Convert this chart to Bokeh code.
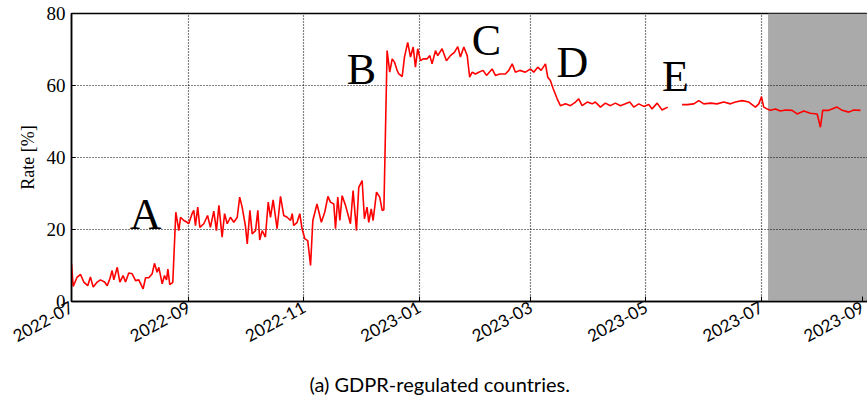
import numpy as np
import pandas as pd
from bokeh.plotting import figure
from bokeh.models import (ColumnDataSource, Range1d, FixedTicker, BoxAnnotation, Title,
                          CustomJSTickFormatter)
from bokeh.embed import file_html
from bokeh.resources import INLINE
from bokeh.core.properties import value

# ---------------- data ----------------
start_date = "2022-07-01"
end_date = "2023-08-26 05:00"
shade_start = "2023-07-04 14:00"

month_ticks = ["2022-07-01", "2022-09-01", "2022-11-01", "2023-01-01",
               "2023-03-01", "2023-05-01", "2023-07-01"]
cut_tick_label = "2023-09"         # last tick label, cut by the right edge in the reference
cut_tick_pos = "2023-08-23 12:00"  # kept just inside the page so the label stays readable

day_offsets = [
    0, 0.9, 3, 4.8, 6.5, 8.6, 10, 11.5, 13.6, 15.3, 17.5, 18.9, 20.3, 21.5, 22.4, 24.2, 25.6,
    27.3, 28.6, 30.3, 32.1, 33.9, 35.6, 37.9, 39.2, 40.9, 42.7, 43.9, 45.3, 46.2, 48, 49.2,
    50.3, 51, 52, 53.6, 55.2,
    56.8, 57.7, 59.4, 61.2, 62, 63.8, 64.7, 65.6, 66.8, 67.9, 70, 72, 73.5, 75.3, 76.7, 78,
    79.7, 81, 82.4, 84.1, 85.9, 87.7, 89, 90.3, 92, 93, 94.4, 95.6, 97.4, 98.6, 99.6, 100.9,
    102.6, 104.1, 105.3, 106.7, 108.8, 110.6, 112.3, 114.1, 115.9, 116.8, 117.6, 119.4, 120.8,
    122, 123.5, 125, 126.5, 127.7, 129.9, 132.2, 134, 135.7, 137, 138.8, 139.7, 140.9, 142,
    143.2, 145, 146.7, 147.6, 149, 150.8, 152, 153.8, 155, 156.4, 157.3, 158.6, 159.6, 161.4,
    163.1, 164.4, 165.3,
    167, 168.4, 169.7, 170.9, 172.3, 173.2, 175, 176.2, 177.9, 179.4, 180.8, 182, 183.2, 184.7,
    186.1, 188.2, 189.6, 190.8, 192.6, 193.8, 196.1, 198.4, 200.5, 202.6, 204.4, 205.8, 207.6,
    209.4, 210.7, 212, 213.8, 215.5, 217.8, 219.6, 222.6, 224.3, 226.6, 229.6, 231.4, 233.2,
    234.9, 237.2, 240.2, 242.9, 244.6, 246.7, 248.5, 250.8, 252, 253.4, 254.9, 257, 258.7,
    261.4, 264, 266.7, 268.4, 270.2, 272.9, 275.5, 277.2, 279.9, 282.5, 285.2, 287.8, 290.5,
    293.1, 295.4, 297.5, 300.2, 302.8, 305.5, 307.2, 309.9, 312.5, 315.5,
    319,
    323.1, 325.8, 329.3, 331.9, 334.6, 338.1, 341.6, 345.1, 348.7, 351.3, 354.9, 358.4, 361.9,
    363.7, 365.1, 366.3, 368.1, 369.8, 372.5, 375.1, 377.8, 381.3, 384, 387.5, 391, 394.6,
    396.3, 397.5, 400.7, 405.1, 407.8, 411.3, 413.9, 417.5,
]
rates = [
    10.5, 4.2, 6.8, 7.5, 5.4, 4.4, 6.8, 4.0, 5.4, 6.0, 5.4, 4.4, 6.3, 8.6, 6.0, 9.5, 5.4,
    7.2, 5.4, 7.9, 7.7, 5.8, 6.0, 3.5, 6.6, 6.6, 7.7, 10.6, 8.1, 9.5, 4.9, 7.2,
    6.0, 9.0, 4.7, 5.3, 24.8,
    19.7, 23.4, 22.5, 22.0, 21.6, 24.4, 25.3, 21.1, 26.2, 20.6, 21.6, 23.9, 20.6, 25.1, 19.7, 26.7,
    17.9, 24.4, 21.6, 23.4, 22.0, 23.4, 29.0, 26.2, 21.1, 16.0, 25.3, 18.8, 19.7, 25.3, 17.1, 19.7,
    17.9, 27.6, 23.4, 28.2, 20.2, 29.2, 23.9, 23.4, 22.5, 24.4, 21.1, 22.0, 24.4,
    20.2, 17.4, 16.9, 10.0, 22.5, 27.1, 22.0, 24.8, 29.2, 27.6, 27.1, 20.2, 29.0, 22.5,
    29.4, 26.7, 23.4, 21.6, 30.8, 19.7, 31.7, 33.6, 23.0, 26.2, 22.0, 25.7, 22.5, 30.4,
    29.0, 25.3, 25.5,
    69.7, 63.7, 67.4, 66.5, 64.2, 63.2, 62.5, 67.9, 72.0, 67.9, 70.7, 65.1, 70.2, 66.9,
    67.4, 67.4, 68.3, 66.0, 69.7, 68.3, 70.2, 66.9, 68.3, 69.2, 70.8, 67.9, 70.7,
    68.3, 62.3, 63.7, 63.2, 63.7, 64.2, 62.8, 64.6, 62.8, 63.2, 63.2, 64.2, 66.0,
    63.7, 64.2, 63.7, 64.6, 63.7, 65.1, 64.2, 66.0, 62.3, 61.4, 59.1, 56.3, 54.4,
    54.9, 54.4, 55.4, 56.3, 54.4, 55.4, 54.9, 55.4, 54.0, 55.1, 54.4, 55.1, 54.4,
    54.9, 55.4, 54.0, 54.9, 54.2, 54.7, 53.5, 55.1, 53.2, 54.0,
    np.nan,
    54.7, 54.7, 54.9, 55.8, 54.9, 55.1, 54.9, 55.4, 54.9, 55.4, 55.8, 55.4, 54.0,
    54.9, 56.9, 54.0, 53.5, 53.1, 53.5, 52.9, 53.2, 53.1, 52.1, 52.9, 52.3, 52.1,
    48.4, 53.1, 53.1, 54.0, 53.1, 52.6, 53.2, 53.1,
]

event_labels = ["A", "B", "C", "D", "E"]
event_days = [39.2, 153.4, 219.6, 265.0, 319.6]
event_rates = [19.7, 60.0, 68.0, 61.9, 58.0]

y_ticks = [0, 20, 40, 60, 80]
caption = "(a) GDPR-regulated countries."
y_label = "Rate [%]"

# ---------------- build ----------------
def ms(ts):
    return pd.Timestamp(ts).value / 1e6

t0 = pd.Timestamp(start_date)
dates = t0 + pd.to_timedelta(day_offsets, unit="D")
src = ColumnDataSource(dict(date=dates, rate=rates))
ev = ColumnDataSource(dict(date=t0 + pd.to_timedelta(event_days, unit="D"),
                           rate=event_rates, label=event_labels))

x_end = ms(end_date)
p = figure(width=867, height=415, output_backend="svg", toolbar_location=None,
           x_axis_type="datetime",
           x_range=Range1d(ms(start_date), x_end), y_range=Range1d(0, 80),
           min_border_left=71, min_border_right=0, min_border_top=13, min_border_bottom=114)
p.background_fill_color = "white"
p.border_fill_color = "white"
p.outline_line_color = "black"
p.outline_line_width = 1.5

shade = BoxAnnotation(left=ms(shade_start), fill_color="#aaaaaa", fill_alpha=1.0,
                      line_alpha=0, level="image")
p.add_layout(shade)

p.line("date", "rate", source=src, line_color="#ff0000", line_width=1.6)

p.text("date", "rate", text="label", source=ev, text_font=value("Liberation Serif"),
       text_font_size="44px", text_align="center", text_baseline="alphabetic",
       text_color="black", y_offset=-16)

# axes
month_ms = [ms(d) for d in month_ticks]
p.xaxis.ticker = FixedTicker(ticks=month_ms + [ms(cut_tick_pos)])
p.xaxis.formatter = CustomJSTickFormatter(
    args=dict(last=month_ms[-1], cut=cut_tick_label),
    code="""
    if (tick > last + 1) { return cut; }
    const d = new Date(tick);
    const m = d.getUTCMonth() + 1;
    return d.getUTCFullYear() + "-" + (m < 10 ? "0" + m : "" + m);
    """)
p.xaxis.major_label_orientation = 0.5
p.xaxis.major_label_text_font = "Lato"
p.xaxis.major_label_text_font_size = "17px"
p.xaxis.major_label_text_color = "black"
p.xaxis.major_label_standoff = 4
p.xaxis.axis_line_width = 1.5
p.xaxis.major_tick_in = 5
p.xaxis.major_tick_out = 0
p.xaxis.minor_tick_line_color = None

p.yaxis.ticker = FixedTicker(ticks=y_ticks)
p.yaxis.major_label_text_font = "Liberation Serif"
p.yaxis.major_label_text_font_size = "19px"
p.yaxis.major_label_text_color = "black"
p.yaxis.major_label_standoff = 6
p.yaxis.axis_line_width = 1.5
p.yaxis.major_tick_in = 4
p.yaxis.major_tick_out = 0
p.yaxis.minor_tick_line_color = None
p.yaxis.axis_label = y_label
p.yaxis.axis_label_text_font = "Liberation Serif"
p.yaxis.axis_label_text_font_size = "18px"
p.yaxis.axis_label_text_font_style = "normal"
p.yaxis.axis_label_text_color = "black"
p.yaxis.axis_label_standoff = 6

for g in (p.xgrid, p.ygrid):
    g.grid_line_color = "black"
    g.grid_line_dash = "1 2"
    g.grid_line_width = 1.2
    g.grid_line_alpha = 1.0
p.xgrid.ticker = FixedTicker(ticks=month_ms)
p.ygrid.ticker = FixedTicker(ticks=y_ticks)

title = Title(text=caption, align="left", text_font="Lato", text_font_size="20px",
              text_font_style="normal", text_color="black", standoff=36, offset=238)
p.add_layout(title, "below")

open("out.html", "w").write(file_html(p, INLINE))
